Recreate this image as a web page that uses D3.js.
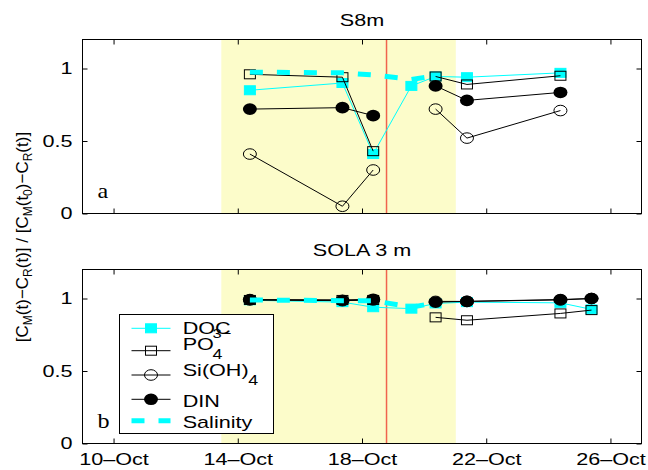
<!DOCTYPE html>
<html>
<head>
<meta charset="utf-8">
<script src="https://cdn.jsdelivr.net/npm/d3@7"></script>
<style>
  body { margin: 0; background: #fff; }
  svg { display: block; }
</style>
</head>
<body>
<div id="chart"></div>
<script>
/* global d3 */

// sample times, as day of October (decimal)
const DAYS_A = [14.39, 17.37, 18.36, 19.59, 20.37, 21.38, 24.39]
const DOC_A = [0.85, 0.90, 0.41, 0.88, 0.945, 0.94, 0.97]
const PO4_A = [0.96, 0.94, 0.43, null, 0.945, 0.89, 0.95]
const SI_A = [0.41, 0.05, 0.30, null, 0.72, 0.52, 0.71]
const DIN_A = [0.72, 0.73, 0.675, null, 0.88, 0.78, 0.835]
const SAL_A = [0.975, 0.97, 0.955, 0.925, 0.95, null, null]

const DAYS_B = [14.39, 17.37, 18.36, 19.59, 20.37, 21.38, 24.39, 25.39]
const DOC_B = [0.988, 0.975, 0.94, 0.93, 0.966, 0.975, 0.97, 0.925]
const PO4_B = [0.99, 0.99, 0.99, null, 0.87, 0.85, 0.897, 0.92]
const SI_B = [0.99, 0.985, 0.99, null, 0.98, 0.98, 0.99, 1.0]
const DIN_B = [0.993, 0.988, 0.995, null, 0.975, 0.98, 0.993, 1.0]
const SAL_B = [0.99, 0.985, 0.985, 0.94, 0.97, null, null, null]

const SHADED_PERIOD = [13.47, 21.02]
const RED_LINE_DAY = 18.79
const X_DOMAIN = [9, 27]
const X_TICKS = [10, 14, 18, 22, 26]
const Y_TICKS = [0, 0.5, 1]
const PANEL_TITLES = ['S8m', 'SOLA 3 m']
const PANEL_LETTERS = ['a', 'b']
const SERIES_NAMES = ['DOC', 'PO4', 'Si(OH)4', 'DIN', 'Salinity']

const W = 648
const H = 470
const SX = 1.27 // the original figure is stretched sideways
const FONT = "'Liberation Sans', Arial, Helvetica, sans-serif"
const CYAN = '#00ffff'

const STYLES = {
  DOC: { color: CYAN, width: 1, marker: 'squareFilled' },
  PO4: { color: '#000', width: 1, marker: 'square' },
  'Si(OH)4': { color: '#000', width: 1, marker: 'circle' },
  DIN: { color: '#000', width: 1, marker: 'circleFilled' },
  Salinity: { color: CYAN, width: 5, dash: '13,14', marker: null }
}

const svg = d3.select('#chart').append('svg')
  .attr('width', W)
  .attr('height', H)

const x = d3.scaleLinear().domain(X_DOMAIN).range([82.5, 641.5])

function addText (g, px, py, str, size, opts = {}) {
  return g.append('text')
    .attr('transform', `translate(${px},${py}) scale(${opts.sx || SX},1)`)
    .attr('text-anchor', opts.anchor || 'start')
    .style('font-family', opts.family || FONT)
    .style('font-size', size + 'px')
    .attr('fill', '#000')
    .text(str)
}

function drawMarker (g, type, cx, cy) {
  if (type === 'squareFilled') {
    g.append('rect').attr('x', cx - 5.5).attr('y', cy - 4.5).attr('width', 11).attr('height', 9)
      .attr('fill', CYAN).attr('stroke', CYAN).attr('stroke-width', 1)
  } else if (type === 'square') {
    g.append('rect').attr('x', cx - 5.5).attr('y', cy - 4.5).attr('width', 11).attr('height', 9)
      .attr('fill', 'none').attr('stroke', '#000').attr('stroke-width', 1)
  } else if (type === 'circle') {
    g.append('ellipse').attr('cx', cx).attr('cy', cy).attr('rx', 6.5).attr('ry', 5.3)
      .attr('fill', 'none').attr('stroke', '#000').attr('stroke-width', 1)
  } else if (type === 'circleFilled') {
    g.append('ellipse').attr('cx', cx).attr('cy', cy).attr('rx', 7).attr('ry', 5.8)
      .attr('fill', '#000')
  }
}

function drawPanel (cfg) {
  const { top, bottom, days, series, title, letter, xLabels } = cfg
  const left = x.range()[0]
  const right = x.range()[1]
  const y = d3.scaleLinear().domain([0, 1.2]).range([bottom, top])
  const g = svg.append('g')

  g.append('rect') // periode grisee en jaune
    .attr('x', x(SHADED_PERIOD[0]))
    .attr('y', top)
    .attr('width', x(SHADED_PERIOD[1]) - x(SHADED_PERIOD[0]))
    .attr('height', bottom - top)
    .attr('fill', '#fcfcca')

  g.append('line')
    .attr('x1', x(RED_LINE_DAY)).attr('x2', x(RED_LINE_DAY))
    .attr('y1', top).attr('y2', bottom)
    .attr('stroke', '#f0644e').attr('stroke-width', 1.5)

  SERIES_NAMES.forEach((name, k) => {
    const st = STYLES[name]
    const vals = series[k]
    const pts = days.map((d, i) => ({ d, v: vals[i] }))
    const line = d3.line()
      .defined(p => p.v != null)
      .x(p => x(p.d))
      .y(p => y(p.v))
    g.append('path')
      .attr('d', line(pts))
      .attr('fill', 'none')
      .attr('stroke', st.color)
      .attr('stroke-width', st.width)
      .attr('stroke-dasharray', st.dash || null)
    if (st.marker) {
      pts.filter(p => p.v != null).forEach(p => drawMarker(g, st.marker, x(p.d), y(p.v)))
    }
  })

  const axes = svg.append('g').style('font-family', FONT)

  axes.append('g')
    .attr('transform', `translate(0,${bottom})`)
    .call(d3.axisBottom(x).tickValues(X_TICKS).tickSize(-5).tickPadding(9)
      .tickFormat(d => xLabels ? `${d}\u2013Oct` : ''))
    .call(a => a.select('.domain').remove())
    .call(a => a.selectAll('text').attr('transform', `scale(${SX},1)`).style('font-size', '17px').attr('fill', '#000'))
    .call(a => a.selectAll('line').attr('stroke', '#000'))

  axes.append('g')
    .attr('transform', `translate(0,${top})`)
    .call(d3.axisTop(x).tickValues(X_TICKS).tickSize(-5).tickFormat(''))
    .call(a => a.select('.domain').remove())
    .call(a => a.selectAll('line').attr('stroke', '#000'))

  axes.append('g')
    .attr('transform', `translate(${left},0)`)
    .call(d3.axisLeft(y).tickValues(Y_TICKS).tickSize(-5).tickFormat(d3.format('')))
    .call(a => a.select('.domain').remove())
    .call(a => a.selectAll('text').attr('x', null)
      .attr('transform', `translate(-10,0) scale(${SX},1)`)
      .style('font-size', '17px').attr('fill', '#000'))
    .call(a => a.selectAll('line').attr('stroke', '#000'))

  axes.append('g')
    .attr('transform', `translate(${right},0)`)
    .call(d3.axisRight(y).tickValues(Y_TICKS).tickSize(-5).tickFormat(''))
    .call(a => a.select('.domain').remove())
    .call(a => a.selectAll('line').attr('stroke', '#000'))

  svg.append('rect')
    .attr('x', left).attr('y', top)
    .attr('width', right - left).attr('height', bottom - top)
    .attr('fill', 'none').attr('stroke', '#000').attr('stroke-width', 1)

  addText(svg, (left + right) / 2, top - 13.5, title, 17, { anchor: 'middle' })
  addText(svg, left + 15, bottom - 15.5, letter, 21, { family: "'Liberation Serif', 'Times New Roman', serif", sx: 1.15 })
}

drawPanel({ top: 39.5, bottom: 213.5, days: DAYS_A, series: [DOC_A, PO4_A, SI_A, DIN_A, SAL_A], title: PANEL_TITLES[0], letter: PANEL_LETTERS[0], xLabels: false })
drawPanel({ top: 269.5, bottom: 443.5, days: DAYS_B, series: [DOC_B, PO4_B, SI_B, DIN_B, SAL_B], title: PANEL_TITLES[1], letter: PANEL_LETTERS[1], xLabels: true })

// legende
const leg = svg.append('g')
leg.append('rect')
  .attr('x', 119.5).attr('y', 314.5).attr('width', 154).attr('height', 119)
  .attr('fill', '#fff').attr('stroke', '#000').attr('stroke-width', 1)

const legRows = [328.3, 350.7, 375, 399.3, 420.7]
SERIES_NAMES.forEach((name, k) => {
  const st = STYLES[name]
  const ly = legRows[k]
  leg.append('line')
    .attr('x1', 131.5).attr('x2', 170.5).attr('y1', ly).attr('y2', ly)
    .attr('stroke', st.color).attr('stroke-width', st.width)
    .attr('stroke-dasharray', st.dash || null)
  if (st.marker) drawMarker(leg, st.marker, 151, ly)
})
addText(leg, 182.7, 333.5, 'DOC', 17)
addText(leg, 182.7, 350, 'PO', 17)
addText(leg, 212.5, 338, '3\u2212', 13)
addText(leg, 212.5, 359, '4', 14)
addText(leg, 182.7, 376, 'Si(OH)', 17)
addText(leg, 248.3, 385, '4', 14)
addText(leg, 182.7, 406.7, 'DIN', 17)
addText(leg, 182.7, 427.7, 'Salinity', 17)

// titre de l'axe y
const yl = svg.append('text')
  .attr('transform', 'translate(28,237) rotate(-90)')
  .attr('text-anchor', 'middle')
  .style('font-family', FONT)
  .style('font-size', '17px')
  .attr('fill', '#000')
const parts = [['[C', 0], ['M', 1], ['(t)\u2212C', 0], ['R', 1], ['(t)] / [C', 0], ['M', 1], ['(t', 0], ['0', 1], [')\u2212C', 0], ['R', 1], ['(t)]', 0]]
let shift = 0
parts.forEach(([s, sub]) => {
  const target = sub ? 4 : 0
  yl.append('tspan')
    .attr('dy', target - shift)
    .style('font-size', sub ? '12px' : '17px')
    .text(s)
  shift = target
})
</script>
</body>
</html>
